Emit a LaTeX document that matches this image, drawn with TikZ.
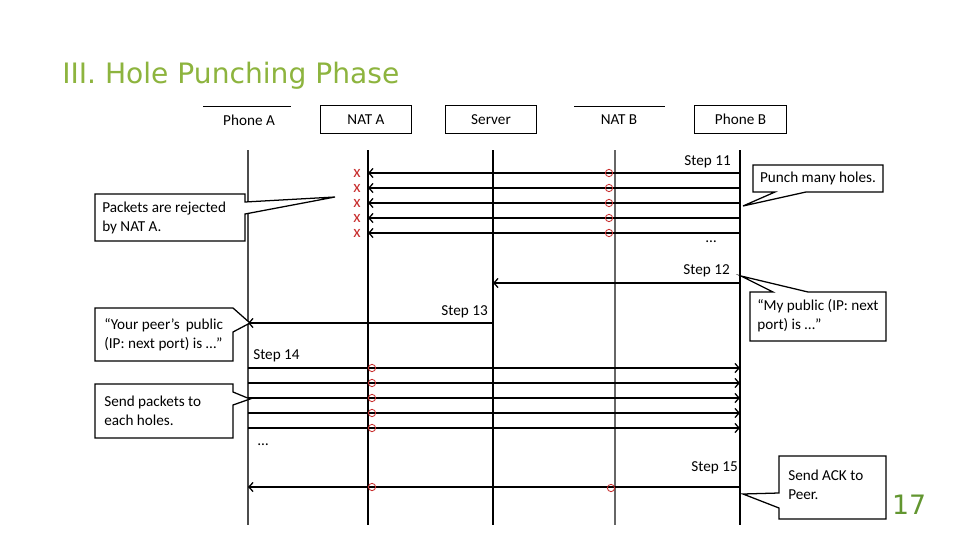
\documentclass[tikz,border=0pt]{standalone}
\usepackage{fontspec}
\setmainfont{Carlito}
\newfontfamily\titlefont{DejaVu Sans}
\usetikzlibrary{arrows.meta}
\definecolor{titlegreen}{RGB}{141,180,62}
\definecolor{numgreen}{RGB}{98,150,48}
\definecolor{markred}{RGB}{200,45,45}
\begin{document}
\begin{tikzpicture}[x=0.025cm,y=-0.025cm,
  txt/.style={font=\fontsize{10.8}{13.5}\selectfont, inner sep=0},
  hdrbox/.style={txt, draw, line width=0.7pt, minimum width=2.28cm, minimum height=0.68cm},
  life/.style={line width=0.75pt},
  msg/.style={line width=0.9pt, -{Straight Barb[length=3pt,width=6.5pt]}},
  note/.style={txt, align=left},
  callout/.style={draw, fill=white, line width=0.9pt, line join=miter},
  xmark/.style={font=\fontsize{12}{12}\selectfont, text=markred, inner sep=0},
  hole/.style={draw=markred, line width=0.6pt},
  steplbl/.style={txt, anchor=east}
]
\useasboundingbox (0,0) rectangle (960,540);
\fill[white] (0,0) rectangle (960,540);

% title and page number
\node[anchor=base west, font=\titlefont\fontsize{20}{24}\selectfont, text=titlegreen, inner sep=0] (title) at (62,83) {III. Hole Punching Phase};
\node[font=\titlefont\fontsize{19}{21}\selectfont, text=numgreen, inner sep=0] (pg) at (909,505) {17};

% headers
\node[txt] (hpa) at (249,120) {Phone A};
\draw[line width=0.7pt] (203,106) -- (291,106);
\node[hdrbox] (hna) at (366,119.5) {NAT A};
\node[hdrbox] (hsv) at (491,119.5) {Server};
\node[txt] (hnb) at (619,120) {NAT B};
\draw[line width=0.7pt] (574,106) -- (665,106);
\node[hdrbox] (hpb) at (740.5,119.5) {Phone B};

% lifelines
\coordinate (paT) at (248,150); \coordinate (paB) at (248,525);
\coordinate (naT) at (368,150); \coordinate (naB) at (368,525);
\coordinate (svT) at (493,150); \coordinate (svB) at (493,525);
\coordinate (nbT) at (615,150); \coordinate (nbB) at (615,525);
\coordinate (pbT) at (740,150); \coordinate (pbB) at (740,525);
\draw[life, draw=black!70] (paT) -- (paB);
\draw[life, line width=1.4pt] (naT) -- (naB);
\draw[life] (svT) -- (svB);
\draw[life, draw=black!60] (nbT) -- (nbB);
\draw[life, line width=0.9pt] (pbT) -- (pbB);

% Step 11
\node[steplbl] (s11) at (731,162) {Step 11};
\foreach \y in {173,188,203,218,233}{
  \draw[msg] (pbT |- 0,\y) -- (naT |- 0,\y);
  \node[xmark] (x\y) at (357,\y) {x};
  \draw[hole] (609,\y) circle[radius=2.6pt];
}
\node[txt] (dots1) at (711,242) {…};

% Step 12
\node[steplbl] (s12) at (730,271) {Step 12};
\draw[msg] (pbT |- 0,283) -- (svT |- 0,283);

% Step 13
\node[steplbl] (s13) at (488,312) {Step 13};
\draw[msg] (svT |- 0,323) -- (paT |- 0,323);

% Step 14
\node[txt, anchor=west] (s14) at (253,356) {Step 14};
\foreach \y in {368,383,398,413,428}{
  \draw[msg] (paT |- 0,\y) -- (pbT |- 0,\y);
  \draw[hole] (372,\y) circle[radius=2.6pt];
}
\node[txt] (dots2) at (263,445) {…};

% Step 15
\node[steplbl] (s15) at (738,468) {Step 15};
\draw[msg] (pbT |- 0,487) -- (paT |- 0,487);
\draw[hole] (372,487) circle[radius=2.6pt];
\draw[hole] (611,488) circle[radius=2.6pt];

% callouts
\draw[callout] (95,194) -- (245,194) -- (245,202) -- (335,197) -- (245,214) -- (245,241) -- (95,241) -- cycle;
\node[note, anchor=west] (c1) at (102,217.5) {Packets are rejected\\by NAT A.};

\draw[callout] (753,165) -- (883,165) -- (883,192) -- (806,192) -- (743,206) -- (775,192) -- (753,192) -- cycle;
\node[txt] (c2) at (818,178.5) {Punch many holes.};

\draw[callout] (750,292) -- (773,292) -- (741,276) -- (808,292) -- (886,292) -- (886,341) -- (750,341) -- cycle;
\node[note, anchor=west] (c3) at (757,316) {“My public (IP: next\\port) is …”};

\draw[callout] (95,308) -- (233,308) -- (250,323) -- (233,332) -- (233,361) -- (95,361) -- cycle;
\node[note, anchor=west] (c4) at (104,335) {“Your peer’s\, public\\(IP: next port) is …"};

\draw[callout] (95,384) -- (233,384) -- (233,392) -- (250,399) -- (233,405) -- (233,438) -- (95,438) -- cycle;
\node[note, anchor=west] (c5) at (104,411) {Send packets to\\each holes.};

\draw[callout] (779,456) -- (886,456) -- (886,519) -- (779,519) -- (779,508) -- (743,494) -- (779,493) -- cycle;
\node[note, anchor=west] (c6) at (788,485) {Send ACK to\\Peer.};
\end{tikzpicture}
\end{document}
